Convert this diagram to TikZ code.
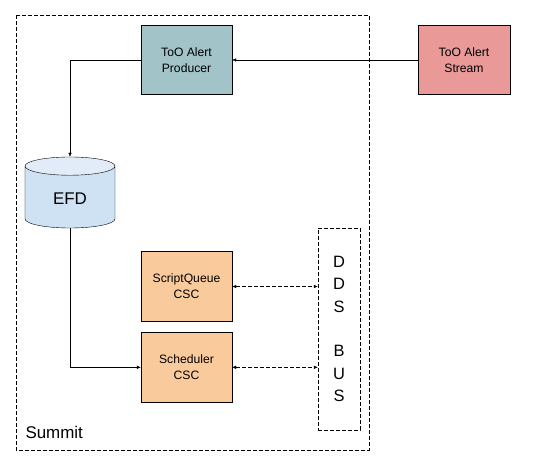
\documentclass[tikz,border=0pt]{standalone}
\usepackage{fontspec}
\setmainfont{Liberation Sans}
\usetikzlibrary{arrows.meta,shapes.geometric,positioning}
\definecolor{producerfill}{HTML}{A2C4C9}
\definecolor{streamfill}{HTML}{EA9999}
\definecolor{cscfill}{HTML}{F9CB9C}
\definecolor{efdfill}{HTML}{CFE2F3}
\definecolor{efdtop}{HTML}{E1ECF8}

\begin{document}
\begin{tikzpicture}[x=1bp,y=-1bp]
\tikzset{BOX/.style={draw,rectangle,align=center,minimum width=91bp,minimum height=69bp,font=\fontsize{12.2}{15.8}\selectfont}}
\tikzset{DATABASE/.style={draw,cylinder,shape border rotate=90,aspect=0.45,minimum width=90bp,minimum height=71bp,cylinder uses custom fill,cylinder body fill=efdfill,cylinder end fill=efdtop,font=\fontsize{17}{20}\selectfont}}
\tikzset{REGION/.style={draw,dash pattern=on 4bp off 2bp}}

\tikzset{FLOWS/.style={draw,-{Latex[length=4bp,width=3.5bp]}}}
\tikzset{TALKS/.style={draw,dash pattern=on 4bp off 2bp,{Latex[length=4bp,width=3.5bp]}-{Latex[length=4bp,width=3.5bp]}}}

\useasboundingbox (0,0) rectangle (556,467);

% summit region
\path[REGION] (16,15) rectangle (369,450);
\node[anchor=west,font=\fontsize{17}{20}\selectfont] (summit) at (22,432) {Summit};

\node[BOX,fill=producerfill] (producer) at (186.5,60) {ToO Alert\\Producer};
\node[BOX,fill=streamfill,minimum width=92bp] (stream) at (464,60) {ToO Alert\\Stream};
\node[DATABASE,anchor=shape center] (efd) at (70,192.5) {EFD};
\node[BOX,fill=cscfill,minimum height=70bp] (script queue) at (186.5,286.5) {ScriptQueue\\CSC};
\node[BOX,fill=cscfill,minimum height=70bp] (scheduler) at (186.5,367.3) {Scheduler\\CSC};
\node[REGION,align=center,minimum width=42bp,minimum height=202bp,font=\fontsize{16.5}{22.4}\selectfont] (dds bus) at (339,329) {D\\D\\S\\[22.4bp]B\\U\\S};

\path [FLOWS] (stream) -- (producer);
\path [FLOWS] (producer.west) -| (efd.north);
\path [FLOWS] (efd.south) |- (scheduler.west);

\path [TALKS] (script queue.east) -- (script queue.east -| dds bus.west);
\path [TALKS] (scheduler.east) -- (scheduler.east -| dds bus.west);

\end{tikzpicture}
\end{document}
